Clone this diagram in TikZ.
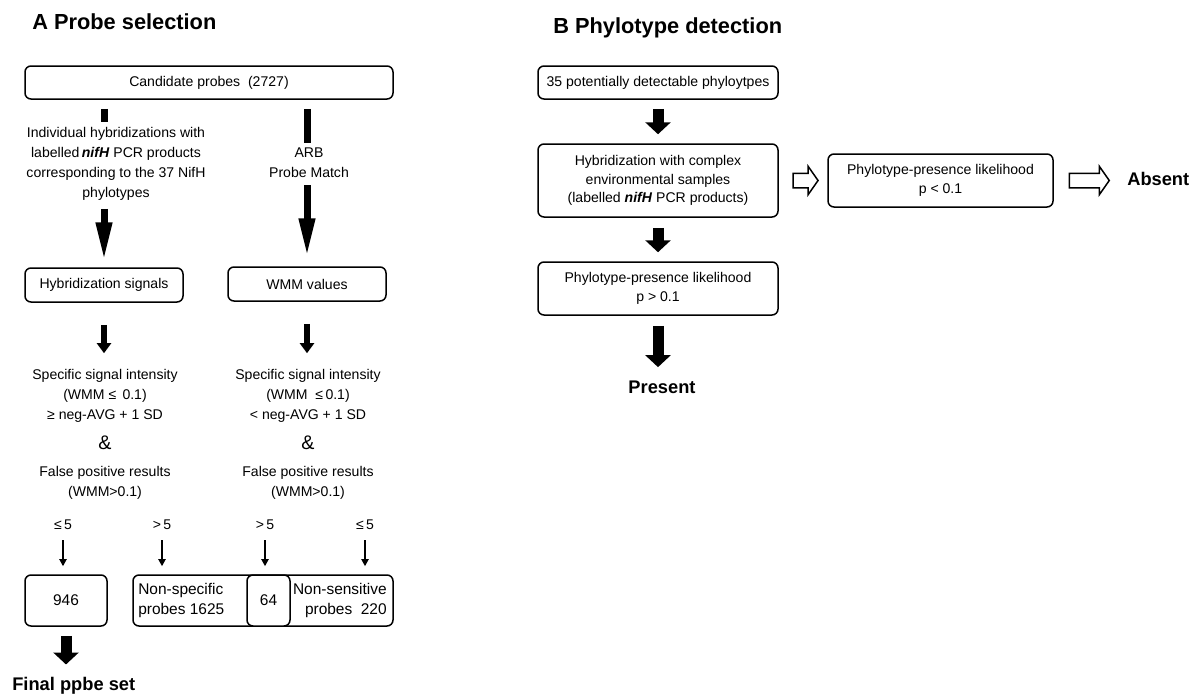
\documentclass[tikz,border=0pt]{standalone}
\usepackage{fontspec}
\setmainfont{Liberation Sans}
\usepackage{tikz}
\usetikzlibrary{arrows.meta,calc,positioning,shapes.arrows}
\newlength\px
\setlength\px{0.025cm}
\tikzset{
  box/.style={draw,rounded corners=6\px,line width=1.5\px,align=center,inner sep=0pt,font=\fontsize{10}{14.2}\selectfont},
  boxB/.style={box,font=\fontsize{10}{13.4}\selectfont},
  txt/.style={inner sep=0pt,align=center,font=\fontsize{10}{14.2}\selectfont},
  amp/.style={inner sep=0pt,font=\fontsize{14}{16}\selectfont},
  lbl/.style={inner sep=0pt,anchor=base,font=\fontsize{10}{12}\selectfont},
  num/.style={box,font=\fontsize{11}{14}\selectfont},
  title/.style={inner sep=0pt,anchor=base west,font=\fontsize{15.5}{18}\selectfont\bfseries},
  result/.style={inner sep=0pt,font=\fontsize{13}{15}\selectfont\bfseries},
  bar/.style={line width=7\px},
  % tip sizes in pt (1px = 0.709pt)
  longarrow/.style={line width=7\px,-{Triangle[width=10.6pt,length=27.6pt]}},
  midarrow/.style={line width=5.5\px,-{Triangle[width=9.9pt,length=7.1pt]}},
  thinarrow/.style={line width=2.8\px,-{Triangle[width=5pt,length=5pt]}},
  fatarrow/.style={line width=11\px,-{Triangle[width=17.7pt,length=8.5pt]}},
  openarrow/.style={single arrow,draw,line width=1.5\px,inner xsep=0pt,inner ysep=6.5\px,
    single arrow head extend=7\px,single arrow tip angle=110}
}

\begin{document}
\begin{tikzpicture}[x=0.025cm,y=-0.025cm]
  \useasboundingbox (0,0) rectangle (1200,697);
  \node[title] (titleA) at (32,29) {A Probe selection};
  \node[title] (titleB) at (553,33) {B Phylotype detection};

  % A: probe selection
  \node[box,minimum width=368\px,minimum height=33\px] (cand) at (209,82.5) {Candidate probes\ \ (2727)};
  \node[txt] (indiv) at (116,164) {Individual hybridizations with\\labelled\,\textbf{\textit{nifH}} PCR products\\corresponding to the 37 NifH\\phylotypes};
  \node[txt] (arb) at (309,163) {ARB\\Probe Match};
  \node[box,minimum width=158\px,minimum height=34\px] (sig) at (104,285) {Hybridization signals};
  \node[box,minimum width=158\px,minimum height=34\px] (wmm) at (307,284) {WMM values};
  \node[txt] (specL) at (105,396) {Specific signal intensity\\(WMM ≤\ \,0.1)\\≥ neg-AVG + 1 SD};
  \node[amp] (ampL) at (105,443) {\&};
  \node[txt] (falseL) at (105,483) {False positive results\\(WMM>0.1)};
  \node[txt] (specR) at (308,396) {Specific signal intensity\\(WMM \ ≤\,0.1)\\< neg-AVG + 1 SD};
  \node[amp] (ampR) at (308,443) {\&};
  \node[txt] (falseR) at (308,483) {False positive results\\(WMM>0.1)};
  \node[lbl] (le1) at (63,529) {≤\,5};
  \node[lbl] (gt1) at (162,529) {>\,5};
  \node[lbl] (gt2) at (265,529) {>\,5};
  \node[lbl] (le2) at (365,529) {≤\,5};
  \node[num,minimum width=82\px,minimum height=51\px] (fin) at (66,600.5) {946};
  \node[num,minimum width=260\px,minimum height=51\px] (nonbox) at (263,600.5) {};
  \node[num,fill=white,minimum width=43\px,minimum height=51\px] (both) at (268.5,600.5) {64};
  \node[inner sep=0pt,anchor=north west,align=left,font=\fontsize{11}{14}\selectfont] (nspec) at (138,583) {Non-specific\\probes 1625};
  \node[inner sep=0pt,anchor=north east,align=right,font=\fontsize{11}{14}\selectfont] (nsens) at (387,583) {Non-sensitive\\probes\ \ 220};
  \node[result,anchor=base west] (final) at (12,690) {Final ppbe set};

  \draw[bar,shorten <=9\px,shorten >=5\px] (cand.south -| sig) -- (sig |- indiv.north);
  \draw[longarrow,shorten <=8\px,shorten >=6\px] (sig |- indiv.south) -- (sig.north);
  \draw[bar,shorten <=9\px,shorten >=5\px] (cand.south -| wmm) -- (wmm |- arb.north);
  \draw[longarrow,shorten <=7\px,shorten >=9\px] (wmm |- arb.south) -- (wmm.north);
  \draw[midarrow,shorten <=22\px,shorten >=16\px] (sig.south) -- (sig.south |- specL.north);
  \draw[midarrow,shorten <=22\px,shorten >=16\px] (wmm.south) -- (wmm.south |- specR.north);
  \foreach \l/\b in {le1/fin,gt1/nonbox,gt2/nonbox,le2/nonbox}
    \draw[thinarrow,shorten <=11\px,shorten >=8\px] (\l.south) -- (\l.south |- \b.north);
  \draw[fatarrow,shorten <=9\px,shorten >=12\px] (fin.south) -- (fin.south |- final.north);

  % B: phylotype detection
  \node[boxB,minimum width=240\px,minimum height=33\px] (detect) at (658,82.5) {35 potentially detectable phyloytpes};
  \node[boxB,minimum width=240\px,minimum height=73\px] (hyb) at (658,180.5) {Hybridization with complex\\environmental samples\\(labelled \textbf{\textit{nifH}} PCR products)};
  \node[boxB,minimum width=240\px,minimum height=53\px] (pres) at (658,288.5) {Phylotype-presence likelihood\\p > 0.1};
  \node[boxB,minimum width=225\px,minimum height=53\px] (lik) at (940.5,180.5) {Phylotype-presence likelihood\\p < 0.1};
  \node[result,anchor=base] (present) at (662,393) {Present};
  \node[result,anchor=base west] (absent) at (1127,185) {Absent};

  \draw[fatarrow,shorten <=9\px,shorten >=9\px] (detect) -- (hyb);
  \draw[fatarrow,shorten <=10\px,shorten >=9\px] (hyb) -- (pres);
  \draw[fatarrow,shorten <=10\px,shorten >=13\px] (pres.south) -- (pres.south |- present.north);
  \node[openarrow,minimum height=25\px] (oa1) at ($(hyb.east)!0.5!(lik.west)$) {};
  \node[openarrow,minimum height=40\px] (oa2) at ($(lik.east)!0.45!(lik.east -| absent.west)$) {};
\end{tikzpicture}
\end{document}
